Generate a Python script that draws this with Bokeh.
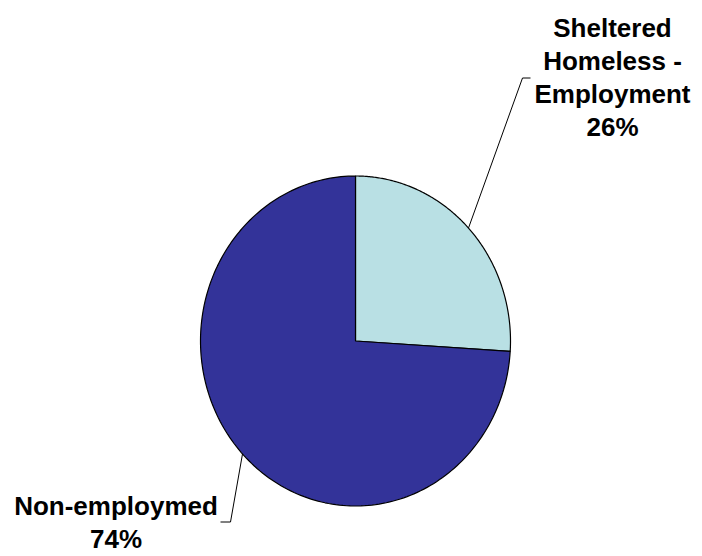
import numpy as np
from bokeh.plotting import figure
from bokeh.models import Range1d, ColumnDataSource
from bokeh.core.properties import value
from bokeh.embed import file_html
from bokeh.resources import INLINE

# ---- data ----
categories = ["Sheltered Homeless - Employment", "Non-employmed"]
values = [26, 74]
colors = ["#B9E0E4", "#333399"]
label_lines = [["Sheltered", "Homeless -", "Employment", "26%"],
               ["Non-employmed", "74%"]]

# ---- layout (pixel-like data space, y downward) ----
W, H = 702, 556
cx, cy, rx, ry = 355.0, 340.5, 155.0, 165.0
label_pos = [(612.0, 27.0), (115.5, 505.0)]   # middle of first line
line_step = 33.3
elbow = [(522.0, 77.5, 530.0), (230.0, 521.5, 220.0)]

p = figure(width=W, height=H, x_range=Range1d(0, W), y_range=Range1d(H, 0),
           output_backend="svg", toolbar_location=None, min_border=0)
p.axis.visible = False
p.grid.visible = False
p.outline_line_color = None
p.background_fill_color = "white"

total = float(sum(values))
start = 0.0
xs, ys, mids = [], [], []
for v in values:
    ang = v / total * 2 * np.pi
    t = np.linspace(start, start + ang, 200)
    xs.append([cx] + list(cx + rx * np.sin(t)) + [cx])
    ys.append([cy] + list(cy - ry * np.cos(t)) + [cy])
    mids.append(start + ang / 2)
    start += ang

src = ColumnDataSource(dict(xs=xs, ys=ys, color=colors, name=categories))
p.patches("xs", "ys", source=src, fill_color="color", line_color="black",
          line_width=1.2)

# leader lines
lx, ly = [], []
for m, (ex, ey, hx) in zip(mids, elbow):
    px = cx + rx * np.sin(m)
    py = cy - ry * np.cos(m)
    lx.append([px, ex, hx])
    ly.append([py, ey, ey])
p.multi_line(lx, ly, line_color="black", line_width=1)

# labels
tx, ty, tt = [], [], []
for (x0, y0), lines in zip(label_pos, label_lines):
    for i, s in enumerate(lines):
        tx.append(x0)
        ty.append(y0 + i * line_step)
        tt.append(s)
p.text(tx, ty, text=tt, text_font=value("Liberation Sans"),
       text_font_style="bold", text_font_size="26px", text_align="center",
       text_baseline="middle", text_color="black")

open("out.html", "w").write(file_html(p, INLINE))
